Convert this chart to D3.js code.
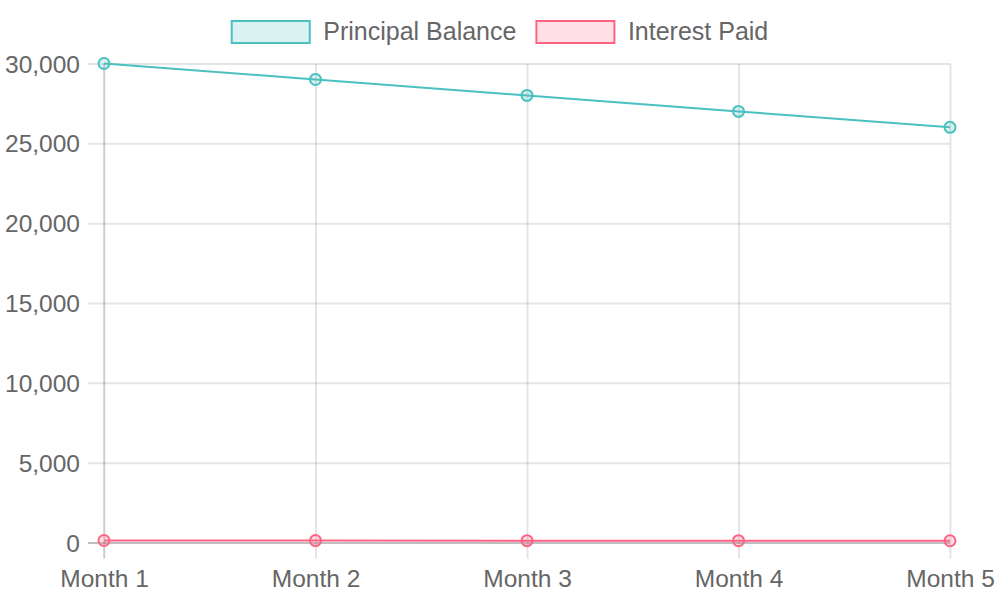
<!DOCTYPE html>
<html>
<head>
<meta charset="utf-8">
<script src="https://cdn.jsdelivr.net/npm/d3@7"></script>
<style>
    body { margin: 0; background: #fff; }
    text { font-family: "Liberation Sans", Arial, sans-serif; fill: #666; }
</style>
</head>
<body>
<div id="chart"></div>
<script>
const months = ["Month 1", "Month 2", "Month 3", "Month 4", "Month 5"];
const principalBalance = [30000, 29000, 28000, 27000, 26000];
const interestPaid = [125, 120.8, 116.7, 112.5, 108.3];
const yTicks = [0, 5000, 10000, 15000, 20000, 25000, 30000];

const series = [
    { name: "Principal Balance", values: principalBalance, stroke: "rgb(75,192,192)", fill: "rgba(75,192,192,0.2)" },
    { name: "Interest Paid", values: interestPaid, stroke: "rgb(255,99,132)", fill: "rgba(255,99,132,0.2)" }
];

const width = 1000;
const height = 600;
const fontSize = 24.5;
const legendFont = 25;

const svg = d3.select('#chart')
    .append('svg')
    .attr('width', width)
    .attr('height', height);

const xScale = d3.scalePoint()
    .domain(months)
    .range([104, 950]);

const yScale = d3.scaleLinear()
    .domain([0, 30000])
    .range([542.5, 63.5]);

// horizontal grid + y axis labels
const yAxis = d3.axisLeft(yScale)
    .tickValues(yTicks)
    .tickSize(950 - 88)
    .tickPadding(0)
    .tickFormat(d3.format(","));

svg.append('g')
    .attr('id', 'y-axis')
    .attr('transform', 'translate(950, 0)')
    .call(g => {
        g.call(yAxis);
        g.select('.domain').remove();
        g.selectAll('.tick line')
            .attr('stroke', d => d === 0 ? 'rgba(0,0,0,0.25)' : 'rgba(0,0,0,0.1)')
            .attr('stroke-width', 2);
        g.selectAll('.tick text')
            .attr('x', -(950 - 80))
            .attr('dy', '0.35em')
            .attr('text-anchor', 'end')
            .style('font-size', fontSize + 'px')
            .attr('fill', null);
    });

// vertical grid + x axis labels
const xAxis = d3.axisBottom(xScale)
    .tickSize(542.5 - 63.5 + 16)
    .tickPadding(0);

svg.append('g')
    .attr('id', 'x-axis')
    .attr('transform', 'translate(0, 63.5)')
    .call(g => {
        g.call(xAxis);
        g.select('.domain').remove();
        g.selectAll('.tick line')
            .attr('stroke', 'rgba(0,0,0,0.1)')
            .attr('stroke-width', 2);
        g.selectAll('.tick text')
            .attr('y', 587 - 63.5)
            .attr('dy', 0)
            .style('font-size', fontSize + 'px')
            .attr('fill', null);
    });

// y axis border line
svg.append('line')
    .attr('x1', xScale(months[0]))
    .attr('x2', xScale(months[0]))
    .attr('y1', yScale(30000))
    .attr('y2', yScale(0) + 16)
    .attr('stroke', 'rgba(0,0,0,0.1)')
    .attr('stroke-width', 2);

const line = d3.line()
    .x((d, i) => xScale(months[i]))
    .y(d => yScale(d));

series.forEach(s => {
    svg.append('path')
        .datum(s.values)
        .attr('fill', 'none')
        .attr('stroke', s.stroke)
        .attr('stroke-width', 2)
        .attr('d', line);

    svg.selectAll(null)
        .data(s.values)
        .enter()
        .append('circle')
        .attr('cx', (d, i) => xScale(months[i]))
        .attr('cy', d => yScale(d))
        .attr('r', 5.5)
        .attr('fill', s.fill)
        .attr('stroke', s.stroke)
        .attr('stroke-width', 2);
});

// Legend
const boxW = 78, boxH = 22, gap = 20;
const legend = svg.append('g').attr('id', 'legend');
const items = legend.selectAll('g')
    .data(series)
    .enter()
    .append('g');

items.append('rect')
    .attr('width', boxW)
    .attr('height', boxH)
    .attr('y', 21)
    .attr('fill', d => d.fill)
    .attr('stroke', d => d.stroke)
    .attr('stroke-width', 2);

items.append('text')
    .attr('x', boxW + 1 + legendFont / 2)
    .attr('y', 40)
    .style('font-size', legendFont + 'px')
    .text(d => d.name);

const widths = [];
items.each(function () {
    widths.push(boxW + 1 + legendFont / 2 + d3.select(this).select('text').node().getComputedTextLength());
});
const total = d3.sum(widths) + gap * (widths.length - 1);
let offset = (width - total) / 2;
items.attr('transform', (d, i) => {
    const t = `translate(${offset}, 0)`;
    offset += widths[i] + gap;
    return t;
});
</script>
</body>
</html>
